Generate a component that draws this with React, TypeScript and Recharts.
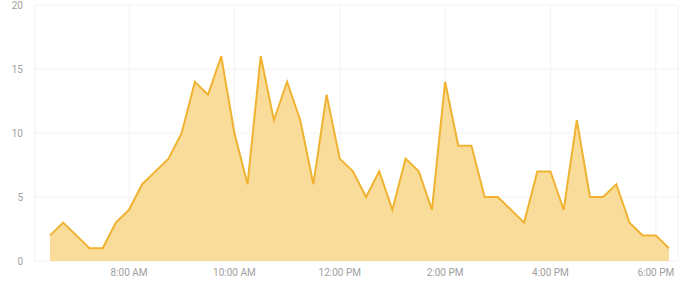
import { AreaChart, Area, XAxis, YAxis, CartesianGrid } from "recharts";

// 15-minute buckets, 6:30 AM to 6:15 PM
const times = [
  "06:30", "06:45", "07:00", "07:15", "07:30", "07:45", "08:00", "08:15",
  "08:30", "08:45", "09:00", "09:15", "09:30", "09:45", "10:00", "10:15",
  "10:30", "10:45", "11:00", "11:15", "11:30", "11:45", "12:00", "12:15",
  "12:30", "12:45", "13:00", "13:15", "13:30", "13:45", "14:00", "14:15",
  "14:30", "14:45", "15:00", "15:15", "15:30", "15:45", "16:00", "16:15",
  "16:30", "16:45", "17:00", "17:15", "17:30", "17:45", "18:00", "18:15",
];

const counts = [
  2, 3, 2, 1, 1, 3, 4, 6,
  7, 8, 10, 14, 13, 16, 10, 6,
  16, 11, 14, 11, 6, 13, 8, 7,
  5, 7, 4, 8, 7, 4, 14, 9,
  9, 5, 5, 4, 3, 7, 7, 4,
  11, 5, 5, 6, 3, 2, 2, 1,
];

const xTicks = ["08:00", "10:00", "12:00", "14:00", "16:00", "18:00"];
const yTicks = [0, 5, 10, 15, 20];

const toMinutes = (s: string) => {
  const [h, m] = s.split(":").map(Number);
  return h * 60 + m;
};

const fmtTime = (v: number) => {
  const h = Math.floor(v / 60);
  const m = v % 60;
  const ampm = h >= 12 ? "PM" : "AM";
  const h12 = h % 12 === 0 ? 12 : h % 12;
  return `${h12}:${String(m).padStart(2, "0")} ${ampm}`;
};

const data = times.map((t, i) => ({ t: toMinutes(t), count: counts[i] }));

const tickStyle = { fill: "#a0a0a0", fontSize: 10, fontFamily: "Roboto, sans-serif" };

export default function App() {
  return (
    <div style={{ position: "absolute", left: 0, top: 0, background: "#fff" }}>
      <AreaChart
        width={695}
        height={283}
        data={data}
        margin={{ top: 5, right: 17, left: 0, bottom: 0 }}
      >
        <CartesianGrid stroke="#f2f2f2" />
        <XAxis
          dataKey="t"
          type="number"
          domain={[toMinutes(times[0]), toMinutes(times[times.length - 1])]}
          padding={{ left: 15, right: 9 }}
          ticks={xTicks.map(toMinutes)}
          tickFormatter={fmtTime}
          tick={tickStyle}
          axisLine={false}
          tickLine={false}
          height={22}
          tickMargin={2}
        />
        <YAxis
          domain={[0, 20]}
          ticks={yTicks}
          tick={tickStyle}
          axisLine={false}
          tickLine={false}
          width={35}
          tickSize={10}
        />
        <Area
          type="linear"
          dataKey="count"
          stroke="#efb331"
          strokeWidth={2}
          fill="#f9d88f"
          fillOpacity={0.9}
          isAnimationActive={false}
        />
      </AreaChart>
    </div>
  );
}
